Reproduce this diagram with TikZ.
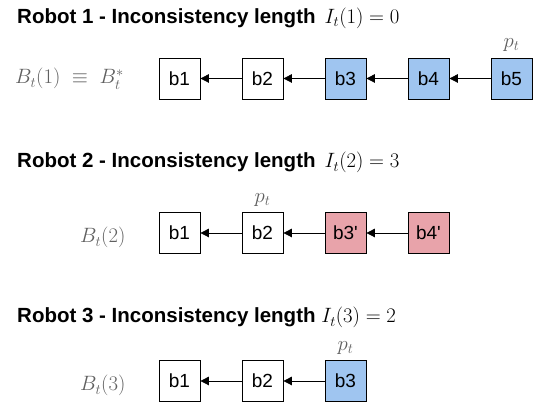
\documentclass[tikz,border=0pt]{standalone}
\usepackage{fontspec}
\setmainfont{Liberation Sans}
\usetikzlibrary{arrows.meta}
\definecolor{bblue}{HTML}{9FC5F0}
\definecolor{bpink}{HTML}{E8A3AA}
\definecolor{lgray}{HTML}{606060}
\begin{document}
\begin{tikzpicture}[x=1pt,y=1pt,
  blk/.style={draw=black, line width=0.8pt, minimum width=41pt, minimum height=41pt, inner sep=0pt, font=\fontsize{19}{21}\selectfont},
  bl/.style={blk, fill=bblue},
  pk/.style={blk, fill=bpink},
  wh/.style={blk, fill=white},
  link/.style={-{Triangle[length=8.5pt,width=8.5pt]}, line width=0.8pt},
  ttl/.style={anchor=base west, inner sep=0pt, font=\fontsize{20.5}{22}\selectfont\bfseries},
  mlab/.style={text=lgray, inner sep=0pt, anchor=base west, font=\fontsize{21}{23}\selectfont},
  plab/.style={text=lgray, inner sep=0pt, anchor=base, font=\fontsize{20}{22}\selectfont}]
\useasboundingbox (0,0) rectangle (542,411);
% Row 1
\node[ttl] (t1) at (17,387.5) {Robot 1 - Inconsistency length \,\mdseries$I_t(1) = 0$};
\node[wh] (a1) at (179.5,332.5) {b1};
\node[wh] (a2) at (262.5,332.5) {b2};
\node[bl] (a3) at (345.5,332.5) {b3};
\node[bl] (a4) at (428.5,332.5) {b4};
\node[bl] (a5) at (511.5,332.5) {b5};
\node[plab] (pa) at ([yshift=10pt]a5.north) {$p_t$};
\node[mlab] (l1) at (15,327) {$B_t(1)\;\equiv\;B_t^{*}$};
\draw[link] (a2) -- (a1);
\draw[link] (a3) -- (a2);
\draw[link] (a4) -- (a3);
\draw[link] (a5) -- (a4);
% Row 2
\node[ttl] (t2) at (17,243) {Robot 2 - Inconsistency length \,\mdseries$I_t(2) = 3$};
\node[wh] (c1) at (179.5,178) {b1};
\node[wh] (c2) at (262.5,178) {b2};
\node[pk] (c3) at (345.5,178) {b3\textquotesingle};
\node[pk] (c4) at (428.5,178) {b4\textquotesingle};
\node[plab] (pc) at ([yshift=10pt]c2.north) {$p_t$};
\node[mlab] (l2) at (80,168) {$B_t(2)$};
\draw[link] (c2) -- (c1);
\draw[link] (c3) -- (c2);
\draw[link] (c4) -- (c3);
% Row 3
\node[ttl] (t3) at (17,88) {Robot 3 - Inconsistency length \mdseries$I_t(3) = 2$};
\node[wh] (e1) at (179.5,30) {b1};
\node[wh] (e2) at (262.5,30) {b2};
\node[bl] (e3) at (345.5,30) {b3};
\node[plab] (pe) at ([yshift=10pt]e3.north) {$p_t$};
\node[mlab] (l3) at (80,20) {$B_t(3)$};
\draw[link] (e2) -- (e1);
\draw[link] (e3) -- (e2);
\end{tikzpicture}
\end{document}
